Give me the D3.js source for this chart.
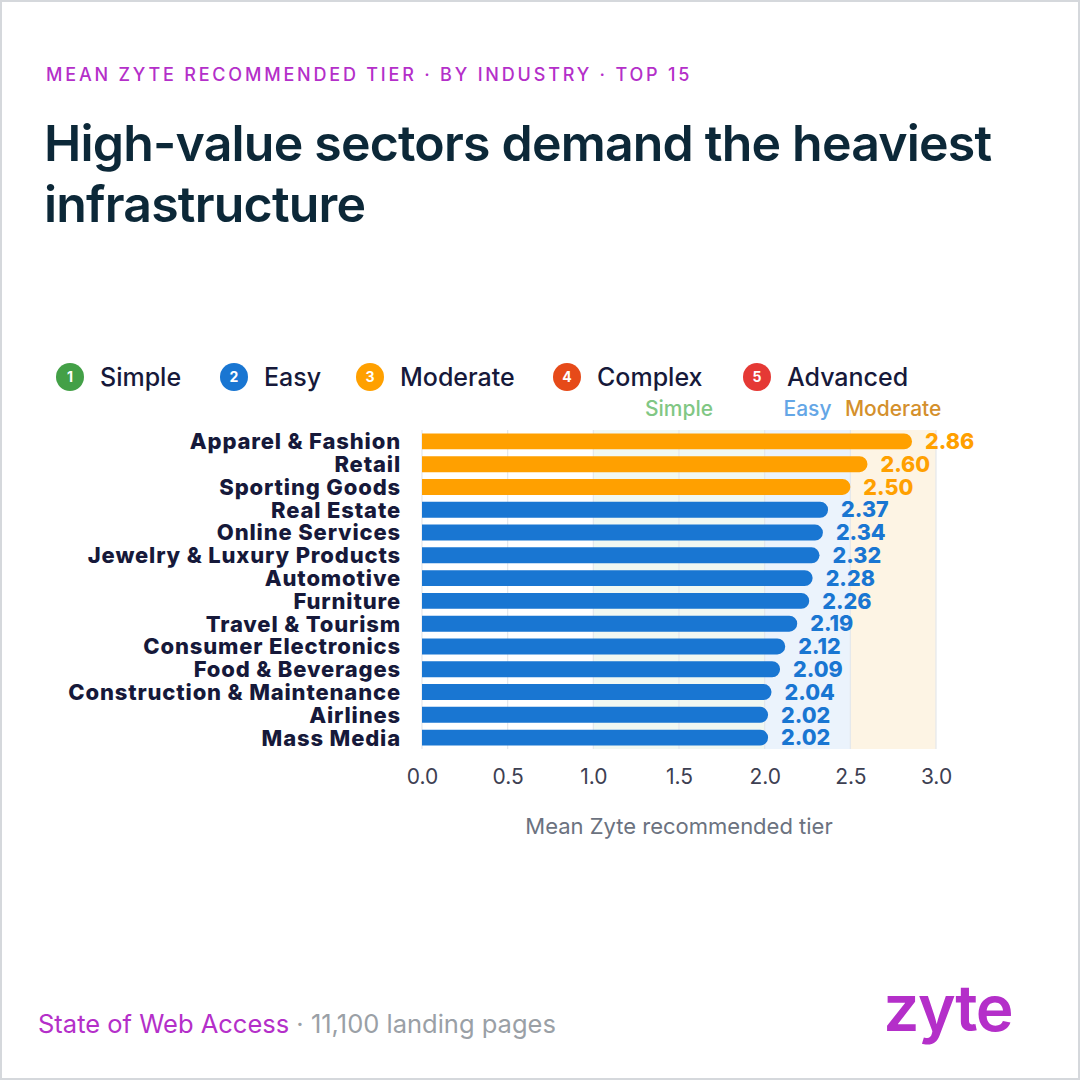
<!DOCTYPE html>
<html>
<head>
<meta charset="utf-8">
<script src="https://cdn.jsdelivr.net/npm/d3@7"></script>
<style>
  html, body { margin: 0; padding: 0; background: #ffffff; }
  svg { display: block; font-family: Inter, "Noto Sans", sans-serif; }
</style>
</head>
<body>
<script>
// ---------- data ----------
const industries = [
  "Apparel & Fashion", "Retail", "Sporting Goods", "Real Estate", "Online Services",
  "Jewelry & Luxury Products", "Automotive", "Furniture", "Travel & Tourism",
  "Consumer Electronics", "Food & Beverages", "Construction & Maintenance",
  "Airlines", "Mass Media"
];
const meanTier = [2.86, 2.60, 2.50, 2.37, 2.34, 2.32, 2.28, 2.26, 2.19, 2.12, 2.09, 2.04, 2.02, 2.02];
const tierNames = ["Simple", "Easy", "Moderate", "Complex", "Advanced"];
const tierNumbers = [1, 2, 3, 4, 5];
const tierColors = ["#43a047", "#1976d2", "#ffa000", "#e64a19", "#e53935"];
const bandNames = ["Simple", "Easy", "Moderate"];
const bandStarts = [1.0, 2.0, 2.5];
const bandEnds = [2.0, 2.5, 3.0];
const bandFills = ["#f1f8f2", "#ebf3fc", "#fdf4e4"];
const bandTextColors = ["#81c784", "#64a6e6", "#d4902c"];
const xTicks = [0.0, 0.5, 1.0, 1.5, 2.0, 2.5, 3.0];

// ---------- layout ----------
const W = 1080, H = 1080;
const svg = d3.select("body").append("svg").attr("width", W).attr("height", H);

svg.append("rect").attr("x", 1).attr("y", 1).attr("width", W - 2).attr("height", H - 2)
  .attr("fill", "#fff").attr("stroke", "#d5d8dc").attr("stroke-width", 2);

// kicker
svg.append("text").attr("x", 46).attr("y", 81)
  .attr("font-size", 18).attr("font-weight", 500).attr("letter-spacing", 2.8)
  .attr("fill", "#b42fc9").text("MEAN ZYTE RECOMMENDED TIER · BY INDUSTRY · TOP 15");

// title
const title = svg.append("text").attr("font-size", 50).attr("font-weight", 600)
  .attr("fill", "#0c2838").attr("letter-spacing", -0.8);
title.append("tspan").attr("x", 44).attr("y", 161).text("High-value sectors demand the heaviest");
title.append("tspan").attr("x", 44).attr("y", 222).text("infrastructure");

// legend
const legendX = [70, 234, 370, 567, 757];
const lg = svg.append("g").selectAll("g").data(tierNames).join("g")
  .attr("transform", (d, i) => `translate(${legendX[i]},377)`);
lg.append("circle").attr("r", 14).attr("fill", (d, i) => tierColors[i]);
lg.append("text").attr("text-anchor", "middle").attr("dy", "0.36em")
  .attr("font-size", 14).attr("font-weight", 700).attr("fill", "#fff")
  .text((d, i) => tierNumbers[i]);
lg.append("text").attr("x", 30).attr("dy", "0.36em")
  .attr("font-size", 25).attr("font-weight", 500).attr("fill", "#16193a")
  .text(d => d);

// scales
const x = d3.scaleLinear().domain([0, 3]).range([422, 936]);
const y = d3.scaleBand().domain(industries).range([430, 749]).paddingInner(0.3).paddingOuter(0.15);
const plotTop = 430, plotBottom = 749;

// bands
svg.append("g").selectAll("rect").data(bandNames).join("rect")
  .attr("x", (d, i) => x(bandStarts[i])).attr("width", (d, i) => x(bandEnds[i]) - x(bandStarts[i]))
  .attr("y", plotTop).attr("height", plotBottom - plotTop)
  .attr("fill", (d, i) => bandFills[i]);
svg.append("g").selectAll("text").data(bandNames).join("text")
  .attr("x", (d, i) => x((bandStarts[i] + bandEnds[i]) / 2)).attr("y", 416)
  .attr("text-anchor", "middle").attr("font-size", 21).attr("font-weight", 500)
  .attr("fill", (d, i) => bandTextColors[i]).text(d => d);

// grid
svg.append("g").selectAll("line").data(xTicks).join("line")
  .attr("x1", d => x(d)).attr("x2", d => x(d)).attr("y1", plotTop).attr("y2", plotBottom)
  .attr("stroke", "#e4e7eb").attr("stroke-width", 1.2);

// x axis
const xAxis = d3.axisBottom(x).tickValues(xTicks).tickFormat(d3.format(".1f")).tickSize(0).tickPadding(0);
const ax = svg.append("g").attr("transform", `translate(0,${plotBottom})`).call(xAxis);
ax.select(".domain").remove();
ax.selectAll("text").attr("y", 20).attr("font-size", 21).attr("fill", "#3d4052")
  .attr("font-family", "Inter, sans-serif");
svg.append("text").attr("x", x(1.5)).attr("y", 834).attr("text-anchor", "middle")
  .attr("font-size", 22).attr("fill", "#6b7280").text("Mean Zyte recommended tier");

// bars
const colorOf = v => tierColors[Math.round(v) - 1];
const r = y.bandwidth() / 2;
const barPath = (v, i) => {
  const x0 = x(0), x1 = x(v), y0 = y(industries[i]), h = y.bandwidth();
  return `M${x0},${y0}H${x1 - r}A${r},${r} 0 0 1 ${x1},${y0 + r}A${r},${r} 0 0 1 ${x1 - r},${y0 + h}H${x0}Z`;
};
svg.append("g").selectAll("path").data(meanTier).join("path")
  .attr("d", (d, i) => barPath(d, i)).attr("fill", d => colorOf(d));

// value labels
svg.append("g").selectAll("text").data(meanTier).join("text")
  .attr("x", d => x(d) + 13).attr("y", (d, i) => y(industries[i]) + y.bandwidth() / 2)
  .attr("dy", "0.36em").attr("font-size", 21.5).attr("font-weight", 800)
  .attr("fill", d => colorOf(d)).text(d => d.toFixed(2));

// category labels
svg.append("g").selectAll("text").data(industries).join("text")
  .attr("x", 401).attr("y", d => y(d) + y.bandwidth() / 2).attr("dy", "0.36em")
  .attr("text-anchor", "end").attr("font-size", 22).attr("font-weight", 800)
  .attr("fill", "#16193a").attr("letter-spacing", 0.85).text(d => d);

// footer
const ft = svg.append("text").attr("x", 38).attr("y", 1033).attr("font-size", 25.5);
ft.append("tspan").attr("fill", "#b42fc9").text("State of Web Access");
ft.append("tspan").attr("fill", "#9aa0a6").text(" · 11,100 landing pages");

svg.append("text").attr("x", 1012).attr("y", 1031).attr("text-anchor", "end")
  .attr("font-size", 64).attr("font-weight", 600).attr("letter-spacing", -1.5)
  .attr("fill", "#b42fc9").text("zyte");
</script>
</body>
</html>
